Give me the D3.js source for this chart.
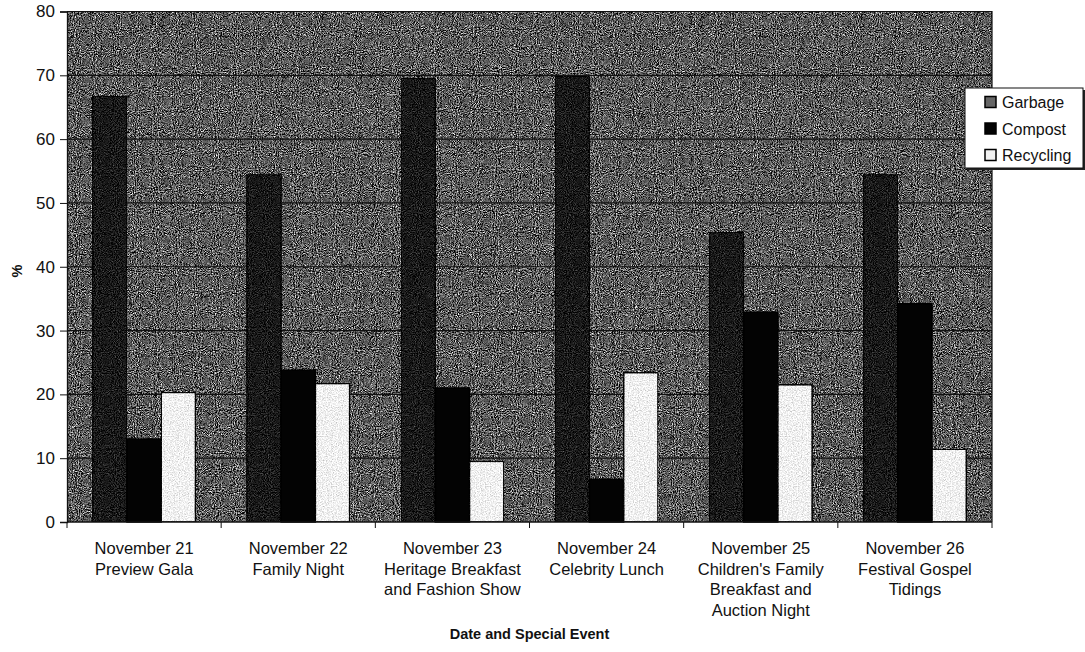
<!DOCTYPE html>
<html>
<head>
<meta charset="utf-8">
<script src="https://cdn.jsdelivr.net/npm/d3@7"></script>
<style>
  body { margin: 0; background: #fff; }
  text { font-family: Arial, "Liberation Sans", sans-serif; fill: #111; }
</style>
</head>
<body>
<div id="chart"></div>
<script>
// categories (each label split in lines)
const categories = ['Nov 21', 'Nov 22', 'Nov 23', 'Nov 24', 'Nov 25', 'Nov 26'];
const categoryLines = [
  ['November 21', 'Preview Gala'],
  ['November 22', 'Family Night'],
  ['November 23', 'Heritage Breakfast', 'and Fashion Show'],
  ['November 24', 'Celebrity Lunch'],
  ['November 25', "Children's Family", 'Breakfast and', 'Auction Night'],
  ['November 26', 'Festival Gospel', 'Tidings']
];
const seriesNames = ['Garbage', 'Compost', 'Recycling'];
const garbage = [66.7, 54.4, 69.5, 69.8, 45.4, 54.4];
const compost = [13.0, 23.8, 21.0, 6.7, 32.9, 34.2];
const recycling = [20.3, 21.7, 9.5, 23.4, 21.5, 11.4];
const yTicks = [0, 10, 20, 30, 40, 50, 60, 70, 80];

const margin = {top: 11.5, right: 93, bottom: 130, left: 67};
const W = 1085, H = 652;
const width = W - margin.left - margin.right;
const height = H - margin.top - margin.bottom;

const svg = d3.select('#chart')
  .append('svg')
  .attr('width', W)
  .attr('height', H);

const defs = svg.append('defs');

// grainy "scanned" look
function addNoise(id, freq, amount, seed) {
  const f = defs.append('filter').attr('id', id)
    .attr('x', 0).attr('y', 0).attr('width', 1).attr('height', 1)
    .attr('color-interpolation-filters', 'sRGB');
  f.append('feTurbulence').attr('type', 'fractalNoise')
    .attr('baseFrequency', freq).attr('numOctaves', 2).attr('seed', seed)
    .attr('result', 'noise');
  f.append('feColorMatrix').attr('in', 'noise').attr('type', 'matrix')
    .attr('values', '0.33 0.33 0.33 0 0  0.33 0.33 0.33 0 0  0.33 0.33 0.33 0 0  0 0 0 0 1')
    .attr('result', 'gray');
  f.append('feComposite').attr('in', 'SourceGraphic').attr('in2', 'gray')
    .attr('operator', 'arithmetic')
    .attr('k1', 0).attr('k2', 1).attr('k3', amount).attr('k4', -amount / 2)
    .attr('result', 'mix');
  f.append('feComposite').attr('in', 'mix').attr('in2', 'SourceGraphic').attr('operator', 'in');
}
addNoise('bgNoise', 0.95, 3.2, 3);
addNoise('darkNoise', 0.95, 1.2, 7);
addNoise('lightNoise', 0.8, 0.9, 11);

const colors = d3.scaleOrdinal()
  .domain(seriesNames)
  .range(['#1a1a1a', '#030303', '#f2f2f2']);
const filters = {Garbage: 'url(#darkNoise)', Compost: null, Recycling: 'url(#lightNoise)'};

const g = svg.append('g')
  .attr('transform', `translate(${margin.left},${margin.top})`);

const x0 = d3.scaleBand()
  .domain(categories)
  .range([0, width])
  .padding(0);

// gap width 150% of a bar
const bw = x0.bandwidth() / 4.5;
const x1 = d3.scaleBand()
  .domain(seriesNames)
  .range([bw * 0.75, bw * 3.75])
  .padding(0);

const y = d3.scaleLinear()
  .domain([0, 80])
  .range([height, 0]);

// plot background
g.append('rect')
  .attr('width', width)
  .attr('height', height)
  .attr('fill', '#5c5c5c')
  .attr('filter', 'url(#bgNoise)');

// grid
g.append('g')
  .selectAll('line')
  .data(yTicks.filter(d => d > 0 && d < 80))
  .enter()
  .append('line')
  .attr('x1', 0)
  .attr('x2', width)
  .attr('y1', d => y(d))
  .attr('y2', d => y(d))
  .attr('stroke', '#111')
  .attr('stroke-width', 1.2);

const table = categories.map((c, i) => ({
  cat: c,
  values: [
    {key: 'Garbage', value: garbage[i]},
    {key: 'Compost', value: compost[i]},
    {key: 'Recycling', value: recycling[i]}
  ]
}));

const groups = g.append('g')
  .selectAll('g')
  .data(table)
  .enter()
  .append('g')
  .attr('transform', d => `translate(${x0(d.cat)},0)`);

groups.selectAll('rect')
  .data(d => d.values)
  .enter()
  .append('rect')
  .attr('x', d => x1(d.key))
  .attr('y', d => y(d.value))
  .attr('width', x1.bandwidth())
  .attr('height', d => y(0) - y(d.value))
  .attr('fill', d => colors(d.key))
  .attr('filter', d => filters[d.key])
  .attr('stroke', '#000')
  .attr('stroke-width', 1.5);

// frame top/right
g.append('path')
  .attr('d', `M0,0H${width}V${height}`)
  .attr('fill', 'none')
  .attr('stroke', '#111')
  .attr('stroke-width', 1.2);

// y axis
const yAxis = g.append('g')
  .call(d3.axisLeft(y).tickValues(yTicks).tickSize(7).tickPadding(5));
yAxis.select('.domain').attr('stroke', '#111').attr('stroke-width', 1.3);
yAxis.selectAll('.tick line').attr('stroke', '#111');
yAxis.selectAll('text')
  .style('font-size', '17px')
  .style('font-family', 'Arial, "Liberation Sans", sans-serif')
  .attr('fill', '#111');

// x axis: ticks at category boundaries
const xAxis = g.append('g')
  .attr('transform', `translate(0,${height})`);
xAxis.append('line')
  .attr('x1', 0).attr('x2', width)
  .attr('stroke', '#111').attr('stroke-width', 1.3);
xAxis.selectAll('.bound')
  .data(categories.concat(['end']))
  .enter()
  .append('line')
  .classed('bound', true)
  .attr('x1', (d, i) => i * x0.step())
  .attr('x2', (d, i) => i * x0.step())
  .attr('y1', 0)
  .attr('y2', 6)
  .attr('stroke', '#111');

const labels = xAxis.selectAll('.cat')
  .data(categories)
  .enter()
  .append('text')
  .classed('cat', true)
  .attr('text-anchor', 'middle')
  .attr('transform', d => `translate(${x0(d) + x0.bandwidth() / 2},32)`)
  .style('font-size', '16.5px');
labels.each(function(d, i) {
  d3.select(this).selectAll('tspan')
    .data(categoryLines[i])
    .enter()
    .append('tspan')
    .attr('x', 0)
    .attr('dy', (t, j) => j === 0 ? 0 : 20.6)
    .text(t => t);
});

// axis titles
svg.append('text')
  .attr('x', margin.left + width / 2)
  .attr('y', 639)
  .attr('text-anchor', 'middle')
  .style('font-size', '14.5px')
  .style('font-weight', 'bold')
  .text('Date and Special Event');

svg.append('text')
  .attr('transform', 'translate(22,271) rotate(-90)')
  .attr('text-anchor', 'middle')
  .style('font-size', '14.5px')
  .style('font-weight', 'bold')
  .text('%');

// legend
const legend = svg.append('g')
  .attr('transform', 'translate(965,88)');
legend.append('rect')
  .attr('x', 2).attr('y', 2)
  .attr('width', 118).attr('height', 80)
  .attr('fill', '#222');
legend.append('rect')
  .attr('width', 118).attr('height', 80)
  .attr('fill', '#fff')
  .attr('stroke', '#111')
  .attr('stroke-width', 1);

const items = legend.selectAll('.legend')
  .data(seriesNames)
  .enter()
  .append('g')
  .classed('legend', true)
  .attr('transform', (d, i) => `translate(20,${14 + i * 26.5})`);

items.append('rect')
  .attr('width', 11)
  .attr('height', 11)
  .attr('y', -5.5)
  .attr('fill', d => d === 'Garbage' ? '#666' : colors(d))
  .attr('stroke', '#000')
  .attr('stroke-width', 1.5);

items.append('text')
  .attr('x', 17)
  .attr('y', 6)
  .style('font-size', '16px')
  .text(d => d);
</script>
</body>
</html>
